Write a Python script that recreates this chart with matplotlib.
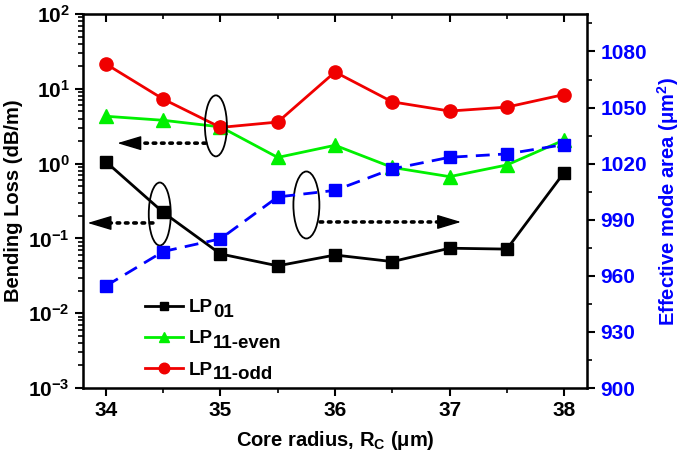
import matplotlib
matplotlib.use('Agg')
import matplotlib.pyplot as plt
from matplotlib.patches import Ellipse
from matplotlib.transforms import ScaledTranslation

plt.rcParams['font.family'] = ['Liberation Sans', 'DejaVu Sans']
plt.rcParams['font.weight'] = 'bold'
plt.rcParams['mathtext.fontset'] = 'custom'
plt.rcParams['mathtext.rm'] = 'Liberation Sans:bold'
plt.rcParams['mathtext.bf'] = 'Liberation Sans:bold'
plt.rcParams['mathtext.default'] = 'bf'

# data
radius = [34, 34.5, 35, 35.5, 36, 36.5, 37, 37.5, 38]
lp01 = [1.06, 0.223, 0.062, 0.043, 0.060, 0.049, 0.074, 0.072, 0.76]
lp11_even = [4.3, 3.8, 3.1, 1.21, 1.76, 0.89, 0.67, 0.96, 2.07]
lp11_odd = [21.5, 7.3, 3.05, 3.6, 16.8, 6.7, 5.05, 5.7, 8.4]
mode_area = [954.6, 973.0, 979.8, 1002.2, 1005.7, 1017.2, 1023.4, 1025.2, 1030.2]

mode_names = ['LP', 'LP', 'LP']
mode_subs = ['01', '11-even', '11-odd']
x_ticks = [34, 35, 36, 37, 38]
area_ticks = [900, 930, 960, 990, 1020, 1050, 1080]

fig = plt.figure(figsize=(6.85, 4.69), dpi=100)
ax = fig.add_axes([0.1212, 0.1727, 0.7358, 0.7973])

ax.plot(radius, lp01, color='black', lw=2, marker='s', ms=8, label=mode_names[0])
ax.plot(radius, lp11_even, color='#00f000', lw=2, marker='^', ms=9.5, label=mode_names[1])
ax.plot(radius, lp11_odd, color='#f00000', lw=2, marker='o', ms=9.5, label=mode_names[2])

ax.set_yscale('log')
ax.set_ylim(1e-3, 1e2)
ax.set_xlim(33.8, 38.2)
ax.set_xticks(x_ticks)
ax.set_xticks([34.5, 35.5, 36.5, 37.5], minor=True)
ax.tick_params(axis='both', which='major', direction='out', length=6, width=1.5, labelsize=15)
ax.tick_params(axis='both', which='minor', direction='out', length=3.5, width=1.2)
for s in ax.spines.values():
    s.set_linewidth(1.8)

ax.set_xlabel(r'Core radius, R$_{C}$ ($\mu$m)', fontsize=14.5, fontweight='bold', labelpad=6)
ax.set_ylabel('Bending Loss (dB/m)', fontsize=14.5, fontweight='bold', labelpad=4)

top = ax.secondary_xaxis('top')
top.set_xticks(x_ticks)
top.set_xticks([34.5, 35.5, 36.5, 37.5], minor=True)
top.tick_params(which='major', direction='in', length=6, width=1.5, labeltop=False)
top.tick_params(which='minor', direction='in', length=3.5, width=1.2)

ax2 = ax.twinx()
ax2.plot(radius, mode_area, color='#0000ff', lw=2, ls=(0, (5, 3)), marker='s', ms=8)
ax2.set_ylim(900, 1100)
ax2.set_yticks(area_ticks)
ax2.set_yticks([915, 945, 975, 1005, 1035, 1065, 1095], minor=True)
ax2.tick_params(axis='y', which='major', direction='out', length=6, width=1.5,
                labelsize=15, labelcolor='#0000ff')
ax2.tick_params(axis='y', which='minor', direction='out', length=3.5, width=1.2)
ax2.set_ylabel(r'Effective mode area ($\mu$m$^{2}$)', fontsize=14.5, fontweight='bold',
               color='#0000ff', labelpad=6)

# ellipses and dotted arrows marking which axis each curve belongs to
def mark(xc, yc, w, h):
    tr = fig.dpi_scale_trans + ScaledTranslation(xc, yc, ax.transData)
    ax.add_patch(Ellipse((0, 0), w / 100, h / 100, transform=tr, fill=False,
                         ec='black', lw=1.3, zorder=5, clip_on=False))

def dotted_arrow(x0, x1, y):
    ax.annotate('', xy=(x1, y), xytext=(x0, y),
                arrowprops=dict(arrowstyle='-', ls=(0, (0.7, 1.6)), lw=2.6,
                                color='black', shrinkA=0, shrinkB=0))
    step = 0.17 if x1 > x0 else -0.17
    ax.annotate('', xy=(x1 + step, y), xytext=(x1, y),
                arrowprops=dict(arrowstyle='-|>,head_length=1.5,head_width=0.45',
                                lw=1, color='black', shrinkA=0, shrinkB=0))

mark(34.96, 3.2, 22, 61)
mark(34.47, 0.212, 22, 63)
mark(35.75, 0.28, 26, 67)

dotted_arrow(34.87, 34.27, 1.88)
dotted_arrow(34.41, 34.01, 0.161)
dotted_arrow(35.87, 36.93, 0.166)

leg = ax.legend(loc='lower left', bbox_to_anchor=(0.09, -0.02), frameon=False, fontsize=13.5,
                handlelength=2.0, handletextpad=0.3, labelspacing=0.75, markerscale=0.8)
# large subscripts next to the legend labels
for t, sub in zip(leg.get_texts(), mode_subs):
    ax.annotate(sub, xy=(1, 0), xycoords=t, xytext=(0.5, -3.5), textcoords='offset points',
                ha='left', va='bottom', fontsize=13.5, fontweight='bold', zorder=6)

fig.savefig('out.png', dpi=100)
